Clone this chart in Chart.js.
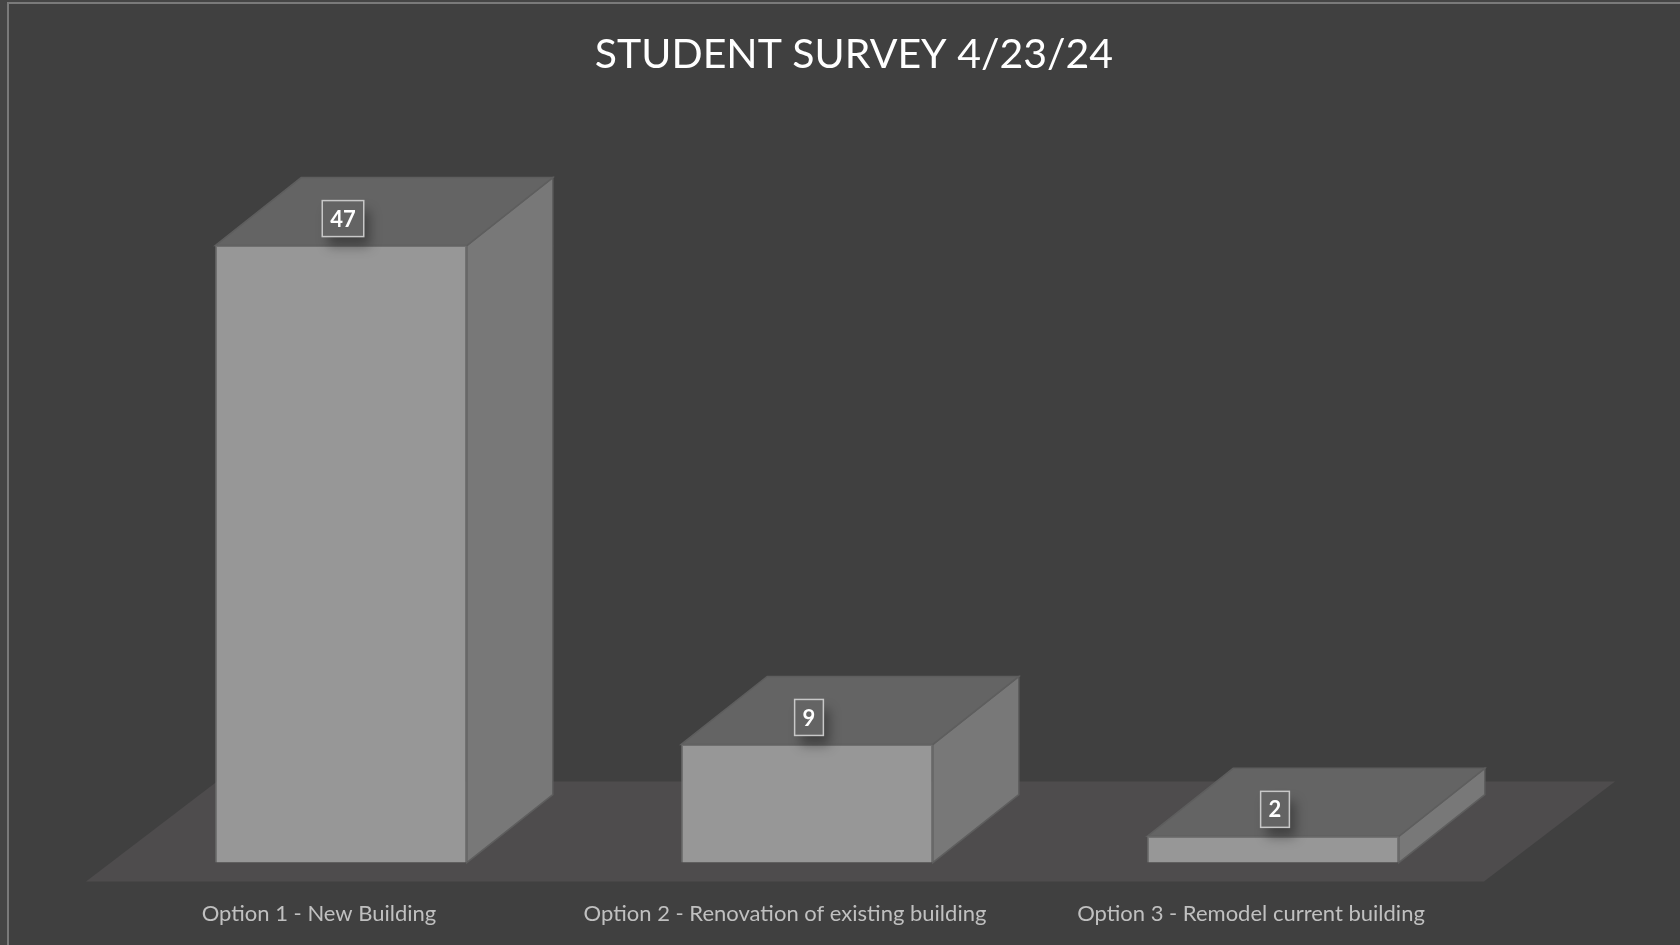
<!DOCTYPE html>
<html>
<head>
<meta charset="utf-8">
<title>Student Survey 4/23/24</title>
<script src="https://cdn.jsdelivr.net/npm/chart.js@4.4.1/dist/chart.umd.min.js"></script>
<style>
    html, body { margin: 0; padding: 0; background: #454545; overflow: hidden; }
    #frame {
        position: absolute; left: 7px; top: 2px;
        width: 1720px; height: 970px;
        background: #404040;
        border-left: 2px solid #7a7a7a;
        border-top: 2px solid #7a7a7a;
    }
    #survey-chart { position: absolute; left: 0; top: 0; }
</style>
</head>
<body>
<div id="frame">
    <canvas id="survey-chart" width="1690" height="945"></canvas>
</div>
<script>
const chartTitle = 'STUDENT SURVEY 4/23/24';
const categories = [
    'Option 1 - New Building',
    'Option 2 - Renovation of existing building',
    'Option 3 - Remodel current building'
];
const votes = [47, 9, 2];
const axisMin = 0;
const axisMax = 50;

// depth of the fake 3d look
const barShift = { dx: 22, dy: -19 };
const barDepth = { dx: 86, dy: -68 };
const floorDepth = { dx: 131, dy: -100 };

// empty space left and right of the plot (kept by blank axes so the title stays centred on the canvas)
const leftGap = 77;
const rightGap = 215;

const colors = {
    front: '#979797',
    frontEdge: '#6f6f6f',
    side: '#787878',
    top: '#646464',
    edge: '#5e5e5e',
    floor: '#4e4c4d',
    label: '#c0c0c0'
};

function drawFloor(chart) {
    const ctx = chart.ctx;
    const x = chart.scales.x;
    const y0 = chart.scales.y.getPixelForValue(0);
    ctx.save();
    ctx.fillStyle = colors.floor;
    ctx.beginPath();
    ctx.moveTo(x.left, y0);
    ctx.lineTo(x.right, y0);
    ctx.lineTo(x.right + floorDepth.dx, y0 + floorDepth.dy);
    ctx.lineTo(x.left + floorDepth.dx, y0 + floorDepth.dy);
    ctx.closePath();
    ctx.fill();
    ctx.restore();
}

function drawBoxFaces(ctx, bar) {
    const half = bar.width / 2;
    const l = bar.x - half, r = bar.x + half, t = bar.y, b = bar.base;

    ctx.lineWidth = 1.5;
    ctx.strokeStyle = colors.edge;

    ctx.fillStyle = colors.side;
    ctx.beginPath();
    ctx.moveTo(r, t);
    ctx.lineTo(r + barDepth.dx, t + barDepth.dy);
    ctx.lineTo(r + barDepth.dx, b + barDepth.dy);
    ctx.lineTo(r, b);
    ctx.closePath();
    ctx.fill();
    ctx.stroke();

    ctx.fillStyle = colors.top;
    ctx.beginPath();
    ctx.moveTo(l, t);
    ctx.lineTo(l + barDepth.dx, t + barDepth.dy);
    ctx.lineTo(r + barDepth.dx, t + barDepth.dy);
    ctx.lineTo(r, t);
    ctx.closePath();
    ctx.fill();
    ctx.stroke();
}

function drawValueBox(ctx, bar, value) {
    const text = String(value);
    ctx.font = 'bold 22px Lato';
    const w = ctx.measureText(text).width + 16;
    const h = 36;
    const cx = bar.x + 2;
    const cy = bar.y - 27;

    ctx.save();
    ctx.shadowColor = 'rgba(0, 0, 0, 0.35)';
    ctx.shadowBlur = 12;
    ctx.shadowOffsetX = 6;
    ctx.shadowOffsetY = 10;
    ctx.fillStyle = colors.top;
    ctx.fillRect(cx - w / 2, cy - h / 2, w, h);
    ctx.restore();

    ctx.strokeStyle = '#c8c8c8';
    ctx.lineWidth = 1.5;
    ctx.strokeRect(cx - w / 2, cy - h / 2, w, h);

    ctx.fillStyle = '#ffffff';
    ctx.textAlign = 'center';
    ctx.textBaseline = 'middle';
    ctx.fillText(text, cx, cy + 1);
}

const boxes3d = {
    id: 'boxes3d',
    beforeDatasetsDraw(chart) {
        const ctx = chart.ctx;
        drawFloor(chart);
        ctx.save();
        ctx.translate(barShift.dx, barShift.dy);
        chart.getDatasetMeta(0).data.forEach(bar => drawBoxFaces(ctx, bar));
    },
    afterDatasetsDraw(chart) {
        const ctx = chart.ctx;
        chart.getDatasetMeta(0).data.forEach((bar, i) => drawValueBox(ctx, bar, votes[i]));
        ctx.restore();
    }
};

const blankAxis = (position, width) => ({
    type: 'linear',
    position: position,
    grid: { display: false, drawTicks: false },
    border: { display: false },
    ticks: { display: false },
    afterFit(scale) { scale.width = width; }
});

new Chart(document.getElementById('survey-chart'), {
    type: 'bar',
    data: {
        labels: categories,
        datasets: [{
            data: votes,
            backgroundColor: colors.front,
            borderColor: colors.frontEdge,
            borderWidth: 1.5,
            barPercentage: 0.54,
            categoryPercentage: 1,
            clip: false
        }]
    },
    options: {
        responsive: false,
        animation: false,
        events: [],
        layout: { padding: { left: 0, right: 0, top: 0, bottom: 3 } },
        plugins: {
            legend: { display: false },
            tooltip: { enabled: false },
            title: {
                display: true,
                text: chartTitle,
                color: '#ffffff',
                font: { family: 'Lato', size: 41, weight: 'normal', lineHeight: 1.2 },
                padding: { top: 26, bottom: 146 }
            }
        },
        scales: {
            x: {
                grid: { display: false, drawTicks: false },
                border: { display: false },
                ticks: {
                    color: colors.label,
                    padding: 19,
                    font: { family: 'Lato', size: 22 }
                }
            },
            y: {
                ...blankAxis('left', leftGap),
                min: axisMin,
                max: axisMax
            },
            yRight: blankAxis('right', rightGap)
        }
    },
    plugins: [boxes3d]
});
</script>
</body>
</html>
